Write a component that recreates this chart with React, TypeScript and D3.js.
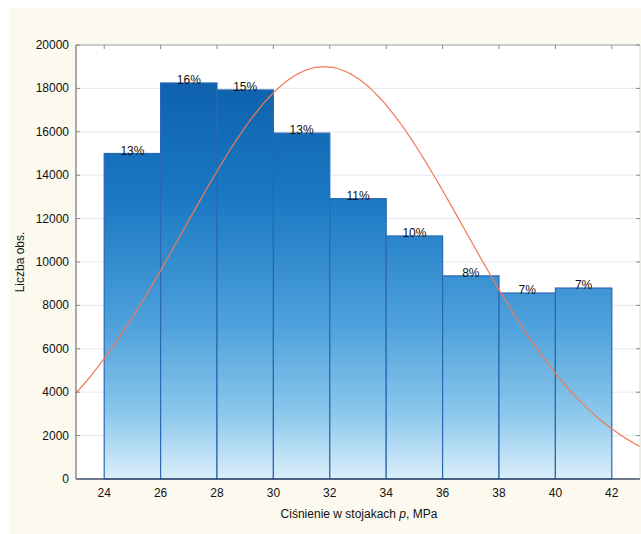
import React, { useRef, useEffect } from 'react';
import * as d3 from 'd3';

// histogram bins (MPa) and counts
const binStarts = [24, 26, 28, 30, 32, 34, 36, 38, 40];
const binWidth = 2;
const counts = [15000, 18250, 17930, 15940, 12920, 11200, 9360, 8570, 8800];
const percents = ['13%', '16%', '15%', '13%', '11%', '10%', '8%', '7%', '7%'];

// fitted normal curve
const fitMean = 31.8;
const fitSd = 4.97;
const fitPeak = 19000;

const xTicks = [24, 26, 28, 30, 32, 34, 36, 38, 40, 42];
const yTicks = [0, 2000, 4000, 6000, 8000, 10000, 12000, 14000, 16000, 18000, 20000];

const W = 641;
const H = 534;

const App = () => {
  const svgRef = useRef<SVGSVGElement>(null);

  useEffect(() => {
    const svg = d3.select(svgRef.current);
    svg.selectAll('*').remove();

    const left = 76, right = 640, top = 45, bottom = 479;
    const font = 'Liberation Sans, Arial, sans-serif';

    const x = d3.scaleLinear().domain([23, 43]).range([left, right]);
    const y = d3.scaleLinear().domain([0, 20000]).range([bottom, top]);

    // page background
    svg.append('rect').attr('x', 9).attr('y', 8).attr('width', W - 9).attr('height', H - 8).attr('fill', '#fcfaef');
    svg.append('rect').attr('x', left).attr('y', top).attr('width', right - left).attr('height', bottom - top).attr('fill', '#fff');

    const defs = svg.append('defs');
    const grad = defs.append('linearGradient')
      .attr('id', 'barGrad')
      .attr('gradientUnits', 'userSpaceOnUse')
      .attr('x1', 0).attr('x2', 0)
      .attr('y1', top).attr('y2', bottom);
    grad.append('stop').attr('offset', '0%').attr('stop-color', '#0a5aa6');
    grad.append('stop').attr('offset', '35%').attr('stop-color', '#1a78c2');
    grad.append('stop').attr('offset', '65%').attr('stop-color', '#4fa2dc');
    grad.append('stop').attr('offset', '85%').attr('stop-color', '#8cc8ec');
    grad.append('stop').attr('offset', '100%').attr('stop-color', '#dbeefa');

    // gridlines
    svg.append('g').selectAll('line')
      .data(yTicks.slice(1, -1))
      .enter()
      .append('line')
      .attr('x1', left).attr('x2', right)
      .attr('y1', d => y(d)).attr('y2', d => y(d))
      .attr('stroke', '#e3ebf1').attr('stroke-width', 1);

    // bars
    svg.append('g').selectAll('rect')
      .data(counts)
      .enter()
      .append('rect')
      .attr('x', (d, i) => x(binStarts[i]))
      .attr('y', d => y(d))
      .attr('width', x(binStarts[0] + binWidth) - x(binStarts[0]))
      .attr('height', d => bottom - y(d))
      .attr('fill', 'url(#barGrad)')
      .attr('stroke', '#2b68b4')
      .attr('stroke-width', 1.2);

    // percent labels
    svg.append('g').selectAll('text')
      .data(counts)
      .enter()
      .append('text')
      .attr('x', (d, i) => x(binStarts[i] + binWidth / 2))
      .attr('y', d => y(d) + 1)
      .attr('text-anchor', 'middle')
      .attr('font-family', font)
      .attr('font-size', 12)
      .attr('fill', '#111')
      .text((d, i) => percents[i]);

    // normal curve
    const xs = d3.range(23, 43.001, 0.1);
    const line = d3.line<number>()
      .x(d => x(d))
      .y(d => y(fitPeak * Math.exp(-((d - fitMean) ** 2) / (2 * fitSd * fitSd))))
      .curve(d3.curveMonotoneX);
    svg.append('path')
      .datum(xs)
      .attr('d', line)
      .attr('fill', 'none')
      .attr('stroke', '#f07a52')
      .attr('stroke-width', 1.2);

    // frame
    svg.append('line').attr('x1', left).attr('x2', right).attr('y1', top).attr('y2', top).attr('stroke', '#9a9a9a');
    svg.append('line').attr('x1', right).attr('x2', right).attr('y1', top).attr('y2', bottom).attr('stroke', '#d8dde2');
    svg.append('line').attr('x1', left).attr('x2', left).attr('y1', top).attr('y2', bottom).attr('stroke', '#555');
    svg.append('line').attr('x1', left).attr('x2', right).attr('y1', bottom).attr('y2', bottom).attr('stroke', '#3d4d6e').attr('stroke-width', 1.5);

    // y ticks and labels
    const yg = svg.append('g');
    yTicks.forEach(t => {
      yg.append('line').attr('x1', left).attr('x2', left + 4).attr('y1', y(t)).attr('y2', y(t)).attr('stroke', '#888');
      yg.append('line').attr('x1', right - 4).attr('x2', right).attr('y1', y(t)).attr('y2', y(t)).attr('stroke', '#888');
      yg.append('text')
        .attr('x', left - 7).attr('y', y(t) + 4)
        .attr('text-anchor', 'end')
        .attr('font-family', font).attr('font-size', 12).attr('fill', '#111')
        .text(t);
    });

    // x ticks and labels
    const xg = svg.append('g');
    xTicks.forEach(t => {
      xg.append('line').attr('x1', x(t)).attr('x2', x(t)).attr('y1', top).attr('y2', top + 4).attr('stroke', '#888');
      xg.append('text')
        .attr('x', x(t)).attr('y', bottom + 18)
        .attr('text-anchor', 'middle')
        .attr('font-family', font).attr('font-size', 12).attr('fill', '#111')
        .text(t);
    });

    // axis titles
    const xt = svg.append('text')
      .attr('x', 359).attr('y', 518)
      .attr('text-anchor', 'middle')
      .attr('font-family', font).attr('font-size', 12).attr('fill', '#111');
    xt.append('tspan').text('Ciśnienie w stojakach ');
    xt.append('tspan').attr('font-style', 'italic').text('p');
    xt.append('tspan').text(',  MPa');

    svg.append('text')
      .attr('transform', `translate(24, ${(top + bottom) / 2}) rotate(-90)`)
      .attr('text-anchor', 'middle')
      .attr('font-family', font).attr('font-size', 12).attr('fill', '#111')
      .text('Liczba obs.');
  }, []);

  return <svg ref={svgRef} width={W} height={H} style={{ position: 'absolute', left: 0, top: 0 }}></svg>;
};

export default App;
